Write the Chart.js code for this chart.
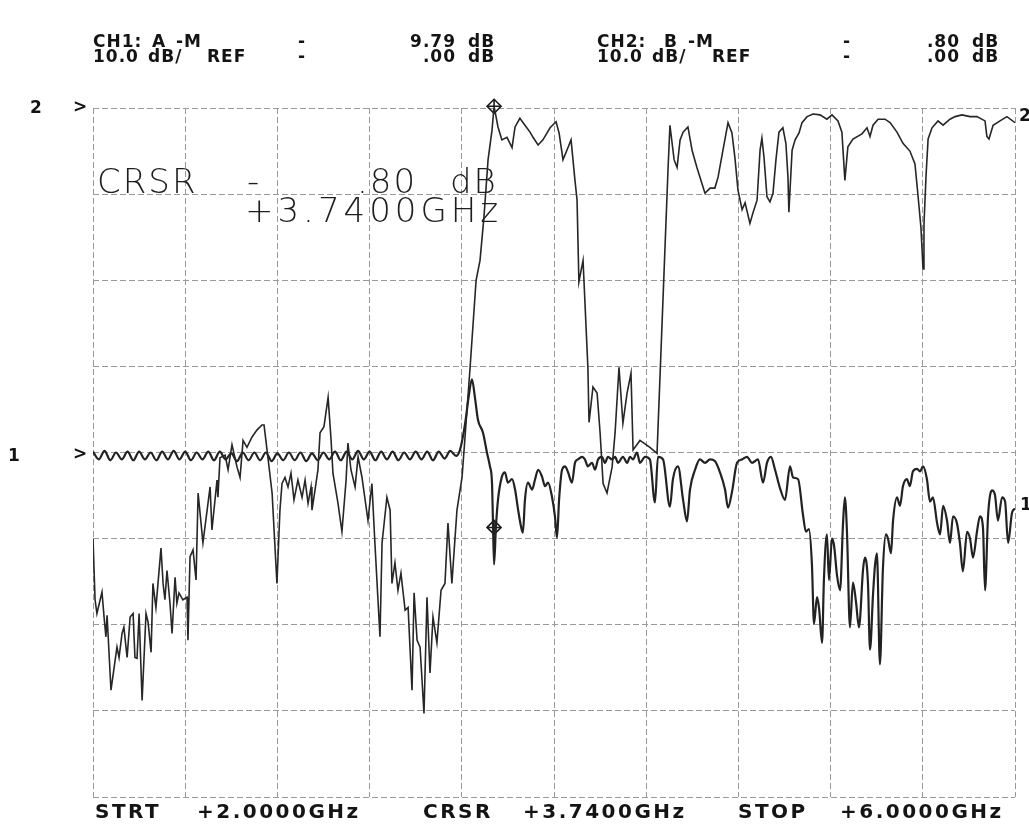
<!DOCTYPE html>
<html>
<head>
<meta charset="utf-8">
<script src="https://cdn.jsdelivr.net/npm/chart.js@4.4.1/dist/chart.umd.min.js"></script>
<style>
  html, body { margin: 0; padding: 0; background: #fff; }
  #plot { display: block; }
</style>
</head>
<body>
<canvas id="plot" width="1029" height="824"></canvas>
<script>
// sweep: 2.0 - 6.0 GHz, 10 dB/div, 8 divisions
const sweepStart = 2.0
const sweepStop = 6.0
const cursorGhz = 3.74

// CH2 (B-M), ref 0 dB at top line -> [GHz, dB]
const ch2Trace = [
    [2.000, -50.0], [2.009, -57.1], [2.017, -58.7], [2.039, -56.2], [2.048, -59.1], [2.056, -61.4], [2.061, -58.9],
    [2.078, -67.6], [2.104, -62.6], [2.113, -63.8], [2.126, -61.0], [2.134, -60.3], [2.148, -63.8], [2.161, -59.1],
    [2.174, -58.7], [2.182, -63.8], [2.191, -63.9], [2.200, -58.7], [2.213, -68.8], [2.230, -58.7], [2.239, -59.7],
    [2.252, -63.2], [2.260, -55.2], [2.273, -58.0], [2.295, -51.1], [2.304, -55.2], [2.312, -57.1], [2.321, -53.7],
    [2.334, -57.5], [2.343, -61.0], [2.356, -54.5], [2.364, -57.5], [2.373, -56.3], [2.390, -57.1], [2.408, -56.8],
    [2.412, -61.8], [2.421, -52.1], [2.434, -51.3], [2.447, -54.8], [2.456, -44.7], [2.477, -50.5], [2.508, -44.0],
    [2.516, -49.0], [2.538, -43.2], [2.542, -45.2], [2.551, -40.6], [2.573, -40.3], [2.586, -42.0], [2.603, -39.1],
    [2.625, -41.7], [2.638, -42.9], [2.651, -38.6], [2.668, -39.4], [2.690, -38.2], [2.711, -37.4], [2.733, -36.8],
    [2.742, -36.8], [2.755, -39.7], [2.777, -44.7], [2.798, -55.2], [2.811, -46.7], [2.820, -43.6], [2.833, -42.9],
    [2.846, -44.0], [2.859, -42.4], [2.872, -45.5], [2.889, -43.2], [2.907, -45.2], [2.920, -43.2], [2.933, -45.9],
    [2.946, -44.0], [2.950, -46.7], [2.963, -44.4], [2.976, -42.0], [2.985, -37.7], [3.002, -37.0], [3.020, -33.6],
    [3.033, -38.6], [3.041, -42.4], [3.063, -45.9], [3.080, -49.2], [3.098, -43.2], [3.106, -38.9], [3.119, -42.0],
    [3.137, -44.0], [3.150, -40.5], [3.167, -42.9], [3.193, -47.9], [3.210, -43.6], [3.223, -50.5], [3.245, -61.4],
    [3.254, -50.5], [3.275, -45.2], [3.289, -46.7], [3.297, -55.2], [3.310, -52.8], [3.323, -56.0], [3.336, -54.0],
    [3.354, -58.3], [3.367, -58.0], [3.384, -67.6], [3.393, -56.3], [3.406, -61.8], [3.419, -62.6], [3.436, -70.3],
    [3.449, -56.8], [3.462, -65.6], [3.475, -59.1], [3.492, -62.1], [3.510, -56.0], [3.527, -55.2], [3.540, -48.2],
    [3.557, -55.2], [3.579, -46.7], [3.601, -42.9], [3.614, -38.2], [3.636, -30.1], [3.662, -20.0], [3.679, -17.7],
    [3.696, -12.7], [3.714, -6.0], [3.731, -2.6], [3.740, 0.2], [3.757, -2.2], [3.774, -3.7], [3.796, -3.4],
    [3.818, -4.6], [3.831, -2.2], [3.852, -1.2], [3.874, -2.0], [3.896, -2.8], [3.909, -3.4], [3.931, -4.3],
    [3.952, -3.7], [3.983, -2.3], [4.009, -1.6], [4.022, -2.9], [4.039, -6.0], [4.056, -4.9], [4.074, -3.7],
    [4.091, -8.4], [4.100, -10.7], [4.108, -20.2], [4.126, -17.7], [4.147, -30.1], [4.152, -36.5], [4.169, -32.4],
    [4.187, -33.1], [4.200, -37.7], [4.213, -43.6], [4.230, -44.7], [4.252, -41.7], [4.265, -37.7], [4.282, -30.1],
    [4.299, -36.6], [4.317, -33.1], [4.334, -30.8], [4.343, -39.7], [4.373, -38.6], [4.416, -39.4], [4.447, -40.1],
    [4.495, -6.9], [4.503, -2.0], [4.521, -6.0], [4.534, -6.9], [4.547, -3.7], [4.560, -2.8], [4.581, -2.2],
    [4.599, -4.9], [4.620, -6.9], [4.633, -8.0], [4.655, -9.9], [4.677, -9.3], [4.698, -9.3], [4.712, -8.0],
    [4.733, -4.9], [4.755, -1.7], [4.772, -2.9], [4.785, -5.8], [4.798, -9.5], [4.816, -11.8], [4.829, -11.0],
    [4.850, -13.4], [4.863, -12.2], [4.881, -10.7], [4.894, -4.9], [4.902, -3.5], [4.911, -5.7], [4.924, -10.3],
    [4.937, -10.9], [4.950, -9.9], [4.963, -6.0], [4.976, -2.8], [4.993, -2.3], [5.006, -4.1], [5.015, -8.0],
    [5.019, -12.1], [5.033, -4.9], [5.046, -3.7], [5.063, -2.9], [5.076, -1.7], [5.098, -1.0], [5.124, -0.7],
    [5.154, -0.8], [5.184, -1.3], [5.206, -0.8], [5.232, -1.5], [5.249, -2.8], [5.262, -8.4], [5.275, -4.5],
    [5.297, -3.6], [5.336, -3.0], [5.358, -2.3], [5.371, -3.3], [5.384, -2.0], [5.406, -1.3], [5.436, -1.3],
    [5.458, -1.7], [5.488, -2.8], [5.514, -4.1], [5.544, -5.0], [5.566, -6.5], [5.579, -10.1], [5.592, -13.9],
    [5.601, -18.7], [5.605, -13.6], [5.614, -7.9], [5.623, -3.6], [5.640, -2.3], [5.666, -1.5], [5.688, -2.0],
    [5.718, -1.3], [5.740, -1.0], [5.770, -0.8], [5.805, -1.0], [5.835, -1.0], [5.870, -1.5], [5.878, -3.3],
    [5.887, -3.6], [5.905, -2.0], [5.935, -1.5], [5.965, -1.0], [6.000, -1.7]
]

// CH1 (A-M), ref 0 dB at 4th line -> [GHz, dB]
const ch1Trace = [
    [2.000, 0.1], [2.025, -0.8], [2.050, 0.2], [2.075, -0.9], [2.100, 0.0], [2.125, -0.8], [2.150, 0.1], [2.175, -0.9],
    [2.200, 0.1], [2.225, -0.8], [2.250, 0.0], [2.275, -0.9], [2.300, 0.1], [2.325, -0.8], [2.350, 0.2], [2.375, -0.8],
    [2.400, 0.1], [2.425, -0.9], [2.450, 0.0], [2.475, -0.8], [2.500, 0.1], [2.525, -0.9], [2.550, 0.1], [2.575, -0.8],
    [2.600, -0.1], [2.625, -1.0], [2.650, 0.0], [2.675, -0.9], [2.700, 0.0], [2.725, -0.9], [2.750, 0.0], [2.775, -1.0],
    [2.800, -0.1], [2.825, -0.9], [2.850, 0.0], [2.875, -0.9], [2.900, 0.0], [2.925, -1.0], [2.950, -0.1], [2.975, -0.9],
    [3.000, 0.0], [3.025, -0.8], [3.050, 0.1], [3.075, -0.9], [3.100, 0.1], [3.125, -0.8], [3.150, 0.2], [3.175, -0.8],
    [3.200, 0.1], [3.225, -0.9], [3.250, 0.1], [3.275, -0.8], [3.300, 0.1], [3.325, -0.9], [3.350, 0.0], [3.375, -0.8],
    [3.400, 0.1], [3.425, -0.8], [3.450, 0.1], [3.475, -0.9], [3.500, 0.1], [3.525, -0.7], [3.550, 0.2], [3.575, -0.4],
    [3.592, 0.3], [3.614, 3.3], [3.631, 6.7], [3.644, 8.5], [3.657, 6.4], [3.670, 3.8], [3.692, 2.3], [3.709, 0.0],
    [3.722, -1.6], [3.731, -3.5], [3.735, -7.8], [3.740, -13.0], [3.748, -8.7], [3.757, -5.5], [3.774, -2.8],
    [3.787, -2.3], [3.800, -3.5], [3.818, -3.1], [3.831, -4.3], [3.844, -6.6], [3.857, -8.6], [3.865, -9.3],
    [3.874, -5.5], [3.887, -3.5], [3.905, -4.3], [3.918, -3.1], [3.931, -2.0], [3.948, -2.8], [3.961, -3.9],
    [3.974, -3.5], [3.991, -5.1], [4.004, -7.4], [4.013, -9.9], [4.022, -5.5], [4.035, -2.0], [4.048, -1.6],
    [4.061, -2.3], [4.078, -3.5], [4.091, -1.2], [4.104, -0.8], [4.122, -0.5], [4.134, -0.8], [4.147, -1.6],
    [4.165, -1.2], [4.178, -2.0], [4.191, -0.8], [4.208, -0.5], [4.221, -1.2], [4.234, -0.5], [4.252, -0.8],
    [4.265, -0.5], [4.278, -1.2], [4.299, -0.5], [4.317, -1.2], [4.330, -0.5], [4.343, -0.8], [4.360, 0.0],
    [4.373, -1.2], [4.395, -0.5], [4.416, -0.8], [4.438, -5.8], [4.451, -0.5], [4.473, -0.8], [4.503, -6.3],
    [4.516, -3.1], [4.538, -1.6], [4.560, -5.5], [4.577, -8.0], [4.590, -4.3], [4.612, -2.0], [4.633, -0.8],
    [4.655, -1.2], [4.677, -0.8], [4.698, -1.0], [4.720, -2.3], [4.742, -4.3], [4.755, -6.4], [4.772, -4.6],
    [4.794, -1.2], [4.816, -0.8], [4.837, -0.5], [4.859, -1.2], [4.885, -0.8], [4.907, -3.5], [4.924, -1.2],
    [4.941, -0.5], [4.959, -2.0], [4.980, -4.1], [5.002, -5.5], [5.024, -1.6], [5.037, -2.9], [5.059, -3.1],
    [5.080, -7.2], [5.093, -9.2], [5.106, -8.9], [5.119, -13.0], [5.128, -19.9], [5.141, -16.8], [5.150, -18.1],
    [5.163, -22.1], [5.171, -14.8], [5.184, -9.5], [5.193, -14.8], [5.206, -10.0], [5.215, -10.8], [5.228, -14.3],
    [5.241, -16.0], [5.254, -8.2], [5.262, -5.2], [5.271, -9.2], [5.284, -20.3], [5.297, -15.1], [5.310, -17.3],
    [5.323, -20.3], [5.341, -13.5], [5.349, -12.2], [5.362, -15.1], [5.371, -22.9], [5.384, -16.5], [5.393, -13.0],
    [5.401, -11.7], [5.414, -24.6], [5.427, -13.5], [5.440, -9.5], [5.449, -10.0], [5.462, -11.7], [5.471, -7.9],
    [5.488, -5.2], [5.501, -6.2], [5.514, -3.9], [5.531, -3.1], [5.544, -3.9], [5.557, -2.2], [5.575, -1.9],
    [5.588, -2.2], [5.601, -1.6], [5.618, -3.1], [5.631, -5.7], [5.644, -5.2], [5.662, -8.2], [5.675, -9.5],
    [5.688, -6.2], [5.705, -7.9], [5.718, -10.5], [5.731, -7.4], [5.748, -8.2], [5.761, -10.5], [5.774, -13.8],
    [5.792, -9.2], [5.805, -10.0], [5.818, -12.2], [5.835, -9.2], [5.848, -7.4], [5.861, -8.7], [5.870, -16.0],
    [5.883, -7.4], [5.900, -4.4], [5.913, -4.9], [5.926, -7.9], [5.944, -5.2], [5.957, -5.7], [5.970, -10.5],
    [5.987, -7.0], [6.000, -6.5]
]

// cursor readings where the markers sit
const ch2CursorDb = 0.2
const ch1CursorDb = -8.7

// text printed by the plotter: [text, x, y, align]
const headerText = [
    ['CH1:', 93, 47, 'left'], ['A', 152, 47, 'left'], ['-M', 176, 47, 'left'], ['-', 298, 47, 'left'],
    ['9.79', 456, 47, 'right'], ['dB', 468, 47, 'left'],
    ['10.0', 93, 62, 'left'], ['dB/', 148, 62, 'left'], ['REF', 207, 62, 'left'], ['-', 298, 62, 'left'],
    ['.00', 456, 62, 'right'], ['dB', 468, 62, 'left'],
    ['CH2:', 597, 47, 'left'], ['B', 664, 47, 'left'], ['-M', 688, 47, 'left'], ['-', 843, 47, 'left'],
    ['.80', 960, 47, 'right'], ['dB', 972, 47, 'left'],
    ['10.0', 597, 62, 'left'], ['dB/', 652, 62, 'left'], ['REF', 712, 62, 'left'], ['-', 843, 62, 'left'],
    ['.00', 960, 62, 'right'], ['dB', 972, 62, 'left']
]
const footerText = [
    ['STRT', 95], ['+2.0000GHz', 197], ['CRSR', 423], ['+3.7400GHz', 523], ['STOP', 738], ['+6.0000GHz', 840]
]
const sideText = [
    ['2', 30, 113], ['>', 73, 112], ['1', 8, 461], ['>', 73, 459], ['2', 1019, 121], ['1', 1020, 510]
]

const toPoints = rows => rows.map(([x, y]) => ({x, y}))

const plotterText = {
    id: 'plotterText',
    afterDraw(chart) {
        const ctx = chart.ctx
        ctx.save()
        ctx.fillStyle = '#141414'
        ctx.textBaseline = 'alphabetic'

        ctx.font = 'bold 17px "DejaVu Sans"'
        ctx.letterSpacing = '1px'
        headerText.forEach(([t, x, y, align]) => {
            ctx.textAlign = align
            ctx.fillText(t, x, y)
        })
        ctx.textAlign = 'left'
        ctx.letterSpacing = '0px'
        sideText.forEach(([t, x, y]) => ctx.fillText(t, x, y))

        ctx.font = 'bold 20px "DejaVu Sans"'
        ctx.letterSpacing = '2.5px'
        footerText.forEach(([t, x]) => ctx.fillText(t, x, 818))

        // cursor readout inside the grid
        ctx.fillStyle = '#1e1e1e'
        ctx.font = '200 34px "DejaVu Sans"'
        ctx.letterSpacing = '2px'
        ctx.fillText('CRSR', 97, 193)
        ctx.fillText('-', 247, 193)
        ctx.fillText('.80', 357, 193)
        ctx.fillText('dB', 450, 193)
        ctx.letterSpacing = '4px'
        ctx.fillText('+3.7400GHz', 245, 222)
        ctx.restore()
    }
}

const marker = (label, y, axis, style) => ({
    label,
    data: [{x: cursorGhz, y}],
    yAxisID: axis,
    showLine: false,
    pointStyle: style,
    pointRadius: 7,
    pointBorderWidth: 1.6,
    pointBorderColor: '#1a1a1a',
    pointBackgroundColor: 'rgba(0,0,0,0)',
    clip: false
})

const gridStyle = {
    grid: {color: '#9a9a9a', lineWidth: 1, drawTicks: false},
    border: {display: false, dash: [6, 3]},
    ticks: {display: false}
}

new Chart(document.getElementById('plot'), {
    type: 'line',
    plugins: [plotterText],
    data: {
        datasets: [
            {
                label: 'CH2',
                data: toPoints(ch2Trace),
                yAxisID: 'y',
                borderColor: '#262626',
                borderWidth: 1.6,
                pointRadius: 0,
                tension: 0
            },
            {
                label: 'CH1',
                data: toPoints(ch1Trace),
                yAxisID: 'y1',
                borderColor: '#222',
                borderWidth: 2.2,
                pointRadius: 0,
                cubicInterpolationMode: 'monotone'
            },
            marker('ch2 cursor', ch2CursorDb, 'y', 'rectRot'),
            marker('ch2 cursor cross', ch2CursorDb, 'y', 'cross'),
            marker('ch1 cursor', ch1CursorDb, 'y1', 'rectRot'),
            marker('ch1 cursor cross', ch1CursorDb, 'y1', 'cross')
        ]
    },
    options: {
        responsive: false,
        animation: false,
        layout: {padding: {left: 93, right: 14, top: 108, bottom: 27}},
        plugins: {legend: {display: false}, tooltip: {enabled: false}},
        scales: {
            x: {type: 'linear', min: sweepStart, max: sweepStop, ...gridStyle, ticks: {display: false, stepSize: 0.4}},
            y: {min: -80, max: 0, ...gridStyle, ticks: {display: false, stepSize: 10}},
            y1: {min: -40, max: 40, display: false}
        }
    }
})
</script>
</body>
</html>
